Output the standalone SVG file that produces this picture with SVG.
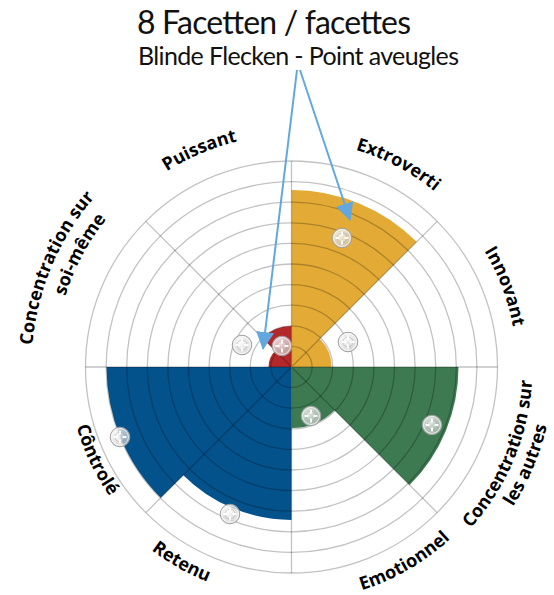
<svg xmlns="http://www.w3.org/2000/svg" xmlns:xlink="http://www.w3.org/1999/xlink" width="554" height="595" viewBox="0 0 554 595">
<defs>
<style>
.grid{fill:none;stroke:#000;stroke-opacity:0.24;stroke-width:1.3}
.lbl{font-family:"Open Sans","DejaVu Sans",sans-serif;font-weight:bold;font-size:18px;fill:#000}
.ttl{font-family:Lato,"Open Sans",sans-serif;fill:#111}
.arrow{stroke:#62A8DE;stroke-width:2;fill:none}
</style>
<radialGradient id="mg" cx="40%" cy="35%" r="70%">
<stop offset="0" stop-color="#fff" stop-opacity="0.85"/>
<stop offset="1" stop-color="#c4c4c4" stop-opacity="0.65"/>
</radialGradient>
<g id="mk">
<circle r="9.8" fill="url(#mg)" stroke="#a0a0a0" stroke-width="1"/>
<circle r="8.4" fill="none" stroke="#fff" stroke-width="1" stroke-opacity="0.8"/>
<circle r="5" fill="none" stroke="#999" stroke-width="0.8" stroke-opacity="0.6"/>
<path d="M-6.5,0H-2.5M2.5,0H6.5M0,-6.5V-2.5M0,2.5V6.5" stroke="#fff" stroke-width="1.8"/>
</g>
<marker id="ah" viewBox="0 0 18 18" refX="17" refY="9" markerWidth="18" markerHeight="18" markerUnits="userSpaceOnUse" orient="auto">
<path d="M0,0L18,9L0,18Z" fill="#62A8DE"/>
</marker>
<path id="p-puissant" d="M84.8,261.7 A232,232 0 0 1 359.3,145.1"/>
<path id="p-extro" d="M243.64,145.62 A226.5,226.5 0 0 1 501.22,281.43"/>
<path id="p-innov" d="M401.7,170.8 A225,225 0 0 1 503.8,441.5"/>
<path id="p-emot" d="M251.28,597.51 A234,234 0 0 0 511.53,446.65"/>
<path id="p-ret" d="M75.73,448.09 A230.5,230.5 0 0 0 333.91,593.56"/>
<path id="p-ctrl" d="M75.7,310.78 A223,223 0 0 0 198.67,569.75"/>
<path id="p-soi1" d="M43.1,443.9 A260,260 0 0 1 172.7,135.8"/>
<path id="p-soi2" d="M59.7,416.3 A237,237 0 0 1 202.7,147.3"/>
<path id="p-aut1" d="M402.4,580.96 A241,241 0 0 0 521.46,294.94"/>
<path id="p-aut2" d="M412.07,599.6 A262,262 0 0 0 541.5,288.66"/>
</defs>
<rect width="554" height="595" fill="#fff"/>

<g id="title">
<text class="ttl" x="137" y="34" font-size="32" textLength="274">8 Facetten / facettes</text>
<text class="ttl" x="138" y="65" font-size="25" textLength="321">Blinde Flecken - Point aveugles</text>
</g>

<g id="sectors">
<g id="zone-yellow"><path d="M291.5,367 L331.5,367 A40,40 0 0 0 319.78,338.72 L416.66,241.84 A177,177 0 0 0 291.5,190 Z" fill="#E3AB35"/></g>
<g id="zone-red"><path d="M291.5,367 L291.5,326 A41,41 0 0 0 262.51,338.01 L275.24,350.74 A23,23 0 0 0 268.5,367 Z" fill="#B3282A"/></g>
<g id="zone-blue"><path d="M291.5,367 L106.5,367 A185,185 0 0 0 160.69,497.81 L183.31,475.19 A153,153 0 0 0 291.5,520 Z" fill="#03528C"/></g>
<g id="zone-green"><path d="M291.5,367 L291.5,428 A61,61 0 0 0 334.63,410.13 L409.59,485.09 A167,167 0 0 0 458.5,367 Z" fill="#3D7A51"/></g>
</g>

<g id="grid" class="grid">
<circle cx="291.5" cy="367" r="20.6"/>
<circle cx="291.5" cy="367" r="41.2"/>
<circle cx="291.5" cy="367" r="61.8"/>
<circle cx="291.5" cy="367" r="82.4"/>
<circle cx="291.5" cy="367" r="103"/>
<circle cx="291.5" cy="367" r="123.6"/>
<circle cx="291.5" cy="367" r="144.2"/>
<circle cx="291.5" cy="367" r="164.8"/>
<circle cx="291.5" cy="367" r="185.4"/>
<circle cx="291.5" cy="367" r="206"/>
<path d="M85.5,367H497.5M291.5,161V573M145.84,221.34L437.16,512.66M437.16,221.34L145.84,512.66"/>
</g>

<g id="markers">
<use xlink:href="#mk" x="342" y="238"/>
<use xlink:href="#mk" x="282" y="346"/>
<use xlink:href="#mk" x="242" y="345"/>
<use xlink:href="#mk" x="348" y="342"/>
<use xlink:href="#mk" x="311" y="416"/>
<use xlink:href="#mk" x="432" y="425"/>
<use xlink:href="#mk" x="120" y="437"/>
<use xlink:href="#mk" x="230" y="514"/>
</g>

<g id="connectors">
<path class="arrow" d="M297,70 L263,349" marker-end="url(#ah)"/>
<path class="arrow" d="M300,70 L350,220" marker-end="url(#ah)"/>
</g>

<g id="label-puissant"><text class="lbl"><textPath xlink:href="#p-puissant" startOffset="50%" text-anchor="middle">Puissant</textPath></text></g>
<g id="label-extroverti"><text class="lbl"><textPath xlink:href="#p-extro" startOffset="50%" text-anchor="middle">Extroverti</textPath></text></g>
<g id="label-innovant"><text class="lbl"><textPath xlink:href="#p-innov" startOffset="50%" text-anchor="middle">Innovant</textPath></text></g>
<g id="label-autres"><text class="lbl"><textPath xlink:href="#p-aut1" startOffset="50%" text-anchor="middle">Concentration sur</textPath><textPath xlink:href="#p-aut2" startOffset="50%" text-anchor="middle">les autres</textPath></text></g>
<g id="label-emotionnel"><text class="lbl"><textPath xlink:href="#p-emot" startOffset="50%" text-anchor="middle">Emotionnel</textPath></text></g>
<g id="label-retenu"><text class="lbl"><textPath xlink:href="#p-ret" startOffset="50%" text-anchor="middle">Retenu</textPath></text></g>
<g id="label-controle"><text class="lbl"><textPath xlink:href="#p-ctrl" startOffset="50%" text-anchor="middle">Côntrolé</textPath></text></g>
<g id="label-soi"><text class="lbl"><textPath xlink:href="#p-soi1" startOffset="50%" text-anchor="middle">Concentration sur</textPath><textPath xlink:href="#p-soi2" startOffset="50%" text-anchor="middle">soi-même</textPath></text></g>
</svg>
